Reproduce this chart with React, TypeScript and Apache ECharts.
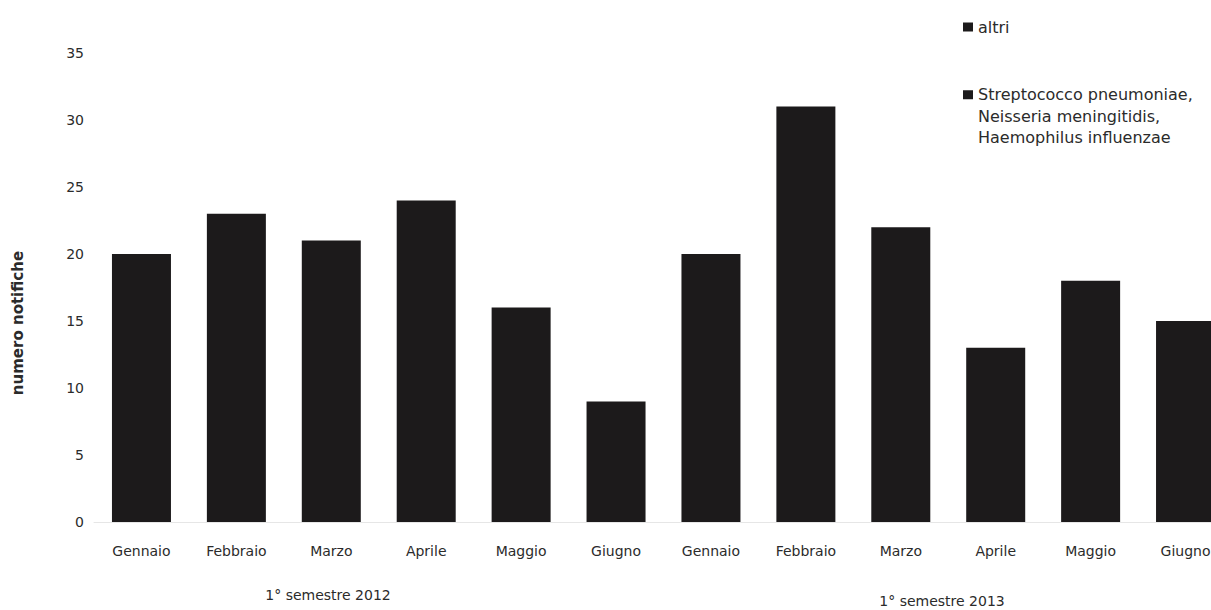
import React, { useEffect, useRef } from "react";
import * as echarts from "echarts";

// Categories (months of the first semester, 2012 then 2013)
const mesi: string[] = [
  "Gennaio", "Febbraio", "Marzo", "Aprile", "Maggio", "Giugno",
  "Gennaio", "Febbraio", "Marzo", "Aprile", "Maggio", "Giugno",
];

// Total notifications per month (both series are drawn in black, so only the stacked total is readable)
const totaliNotifiche: number[] = [20, 23, 21, 24, 16, 9, 20, 31, 22, 13, 18, 15];
// Split between the two series cannot be read from the picture
const altri: (number | null)[] = [];

const serieNomi: string[] = [
  "altri",
  "Streptococco pneumoniae, Neisseria meningitidis, Haemophilus influenzae",
];

const yTicks = { min: 0, max: 35, interval: 5 };
const gruppi: string[] = ["1° semestre 2012", "1° semestre 2013"];
const yNome = "numero notifiche";

const FONT = "'DejaVu Sans', 'Open Sans', sans-serif";
const TXT = "#2b2b2b";
const BAR = "#1c1a1b";

export default function App() {
  const ref = useRef<HTMLDivElement>(null);
  useEffect(() => {
    if (!ref.current) return;
    const chart = echarts.init(ref.current, undefined, { renderer: "svg" });
    chart.setOption({
      animation: false,
      backgroundColor: "#ffffff",
      textStyle: { fontFamily: FONT },
      grid: { left: 94, right: 0, top: 53, bottom: 88, containLabel: false },
      legend: [
        {
          data: [serieNomi[0]],
          left: 958,
          top: 13,
          orient: "vertical",
          itemWidth: 10,
          itemHeight: 9,
          icon: "rect",
          textStyle: { fontSize: 16, color: TXT, fontFamily: FONT, lineHeight: 18 },
        },
        {
          data: [serieNomi[1]],
          left: 958,
          top: 79,
          orient: "vertical",
          itemWidth: 10,
          itemHeight: 52,
          icon: "path://M0,0H10V9H0Z M0,52H10",
          formatter: (n: string) => n.split(", ").join(",\n"),
          textStyle: { fontSize: 16, color: TXT, fontFamily: FONT, lineHeight: 21.5 },
        },
      ],
      xAxis: {
        type: "category",
        data: mesi,
        axisLine: { show: true, lineStyle: { color: "#e6e6e6", width: 1 } },
        axisTick: { show: false },
        axisLabel: { color: TXT, fontSize: 14, margin: 22, fontFamily: FONT, interval: 0 },
      },
      yAxis: {
        type: "value",
        min: yTicks.min,
        max: yTicks.max,
        interval: yTicks.interval,
        axisLine: { show: false },
        axisTick: { show: false },
        splitLine: { show: false },
        axisLabel: { color: TXT, fontSize: 14, margin: 10, fontFamily: FONT },
      },
      series: [
        {
          name: serieNomi[1],
          type: "bar",
          stack: "tot",
          data: totaliNotifiche,
          barWidth: 59,
          itemStyle: { color: BAR },
        },
        {
          name: serieNomi[0],
          type: "bar",
          stack: "tot",
          data: altri,
          barWidth: 59,
          itemStyle: { color: BAR },
        },
      ],
      graphic: [
        {
          type: "text",
          x: 18,
          y: 323,
          rotation: Math.PI / 2,
          style: {
            text: yNome,
            fill: TXT,
            font: `bold 15px ${FONT}`,
            align: "center",
            verticalAlign: "middle",
          },
        },
        {
          type: "text",
          x: 328,
          y: 595,
          style: { text: gruppi[0], fill: TXT, font: `14px ${FONT}`, align: "center", verticalAlign: "middle" },
        },
        {
          type: "text",
          x: 942,
          y: 601,
          style: { text: gruppi[1], fill: TXT, font: `14px ${FONT}`, align: "center", verticalAlign: "middle" },
        },
      ],
    });
    return () => chart.dispose();
  }, []);
  return (
    <div
      ref={ref}
      style={{ position: "fixed", left: 0, top: 0, width: 1233, height: 610, background: "#fff" }}
    />
  );
}
